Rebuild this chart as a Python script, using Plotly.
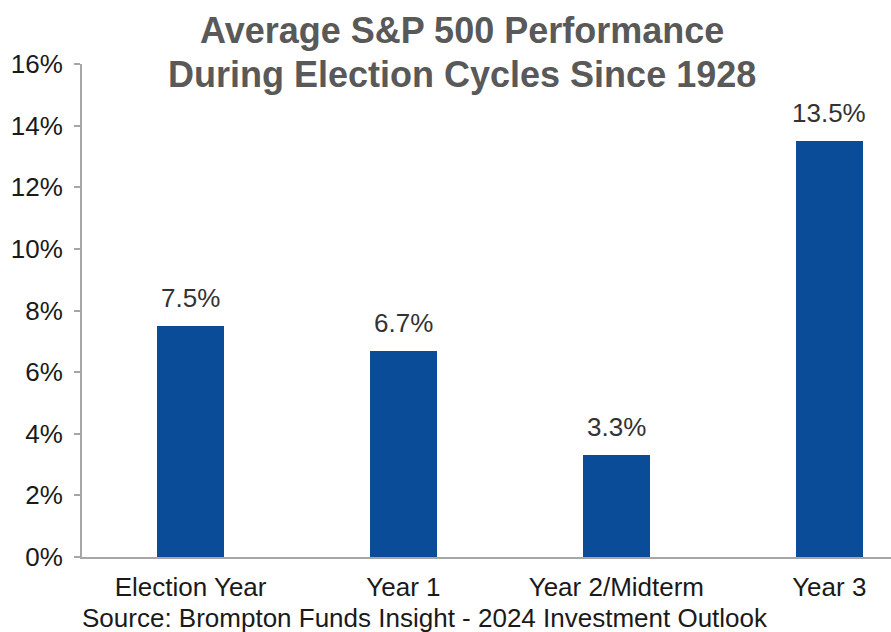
import plotly.graph_objects as go

categories = ["Election Year", "Year 1", "Year 2/Midterm", "Year 3"]
values = [7.5, 6.7, 3.3, 13.5]
labels = ["7.5%", "6.7%", "3.3%", "13.5%"]
tick_vals = [0, 2, 4, 6, 8, 10, 12, 14, 16]
tick_text = ["0%", "2%", "4%", "6%", "8%", "10%", "12%", "14%", "16%"]
title_lines = ["Average S&P 500 Performance", "During Election Cycles Since 1928"]
source_text = "Source: Brompton Funds Insight - 2024 Investment Outlook"

BAR = "#0b4c98"
FONT = "Liberation Sans, Arial, sans-serif"
W, H = 891, 632
ML, MT, MB = 82, 64, 75
PW = W - ML
PH = H - MT - MB

xs = list(range(len(categories)))

fig = go.Figure()
fig.add_trace(go.Bar(
    x=xs, y=values,
    marker=dict(color=BAR, line=dict(width=0)),
    width=0.315,
    hoverinfo="skip",
))

annotations = []
for xi, v, lab in zip(xs, values, labels):
    annotations.append(dict(
        x=xi, y=v, xref="x", yref="y", text=lab,
        xanchor="center", yanchor="bottom", yshift=11,
        showarrow=False,
        font=dict(family=FONT, size=26, color="#333333"),
    ))

# title lines (positions in pixels converted to paper coordinates)
for i, line in enumerate(title_lines):
    cy = 30 + 44 * i
    annotations.append(dict(
        text="<b>" + line + "</b>",
        xref="paper", yref="paper",
        x=(462 - ML) / PW, y=(H - MB - cy) / PH,
        xanchor="center", yanchor="middle",
        showarrow=False,
        font=dict(family=FONT, size=36, color="#595959"),
    ))

annotations.append(dict(
    text=source_text,
    xref="paper", yref="paper", x=(425 - ML) / PW, y=(H - MB - 618) / PH,
    xanchor="center", yanchor="middle",
    showarrow=False,
    font=dict(family=FONT, size=26, color="#1a1a1a"),
))

fig.update_layout(
    width=W, height=H,
    margin=dict(l=ML, r=0, t=MT, b=MB, pad=0),
    paper_bgcolor="white", plot_bgcolor="white",
    showlegend=False,
    bargap=0,
    xaxis=dict(
        range=[-0.51, 3.29],
        tickvals=xs, ticktext=categories,
        tickfont=dict(family=FONT, size=26, color="#1a1a1a"),
        showgrid=False, zeroline=False,
        showline=True, linecolor="#a6a6a6", linewidth=2,
        ticks="", ticklabelstandoff=6,
    ),
    yaxis=dict(
        range=[0, 16],
        tickvals=tick_vals, ticktext=tick_text,
        tickfont=dict(family=FONT, size=26, color="#1a1a1a"),
        showgrid=False, zeroline=False,
        showline=True, linecolor="#a6a6a6", linewidth=2,
        ticks="outside", ticklen=6, tickcolor="#a6a6a6", tickwidth=2,
        ticklabelstandoff=6,
    ),
    annotations=annotations,
)

fig.write_html("out.html", config={"displayModeBar": False},
               post_script="document.body.style.margin='0';")
